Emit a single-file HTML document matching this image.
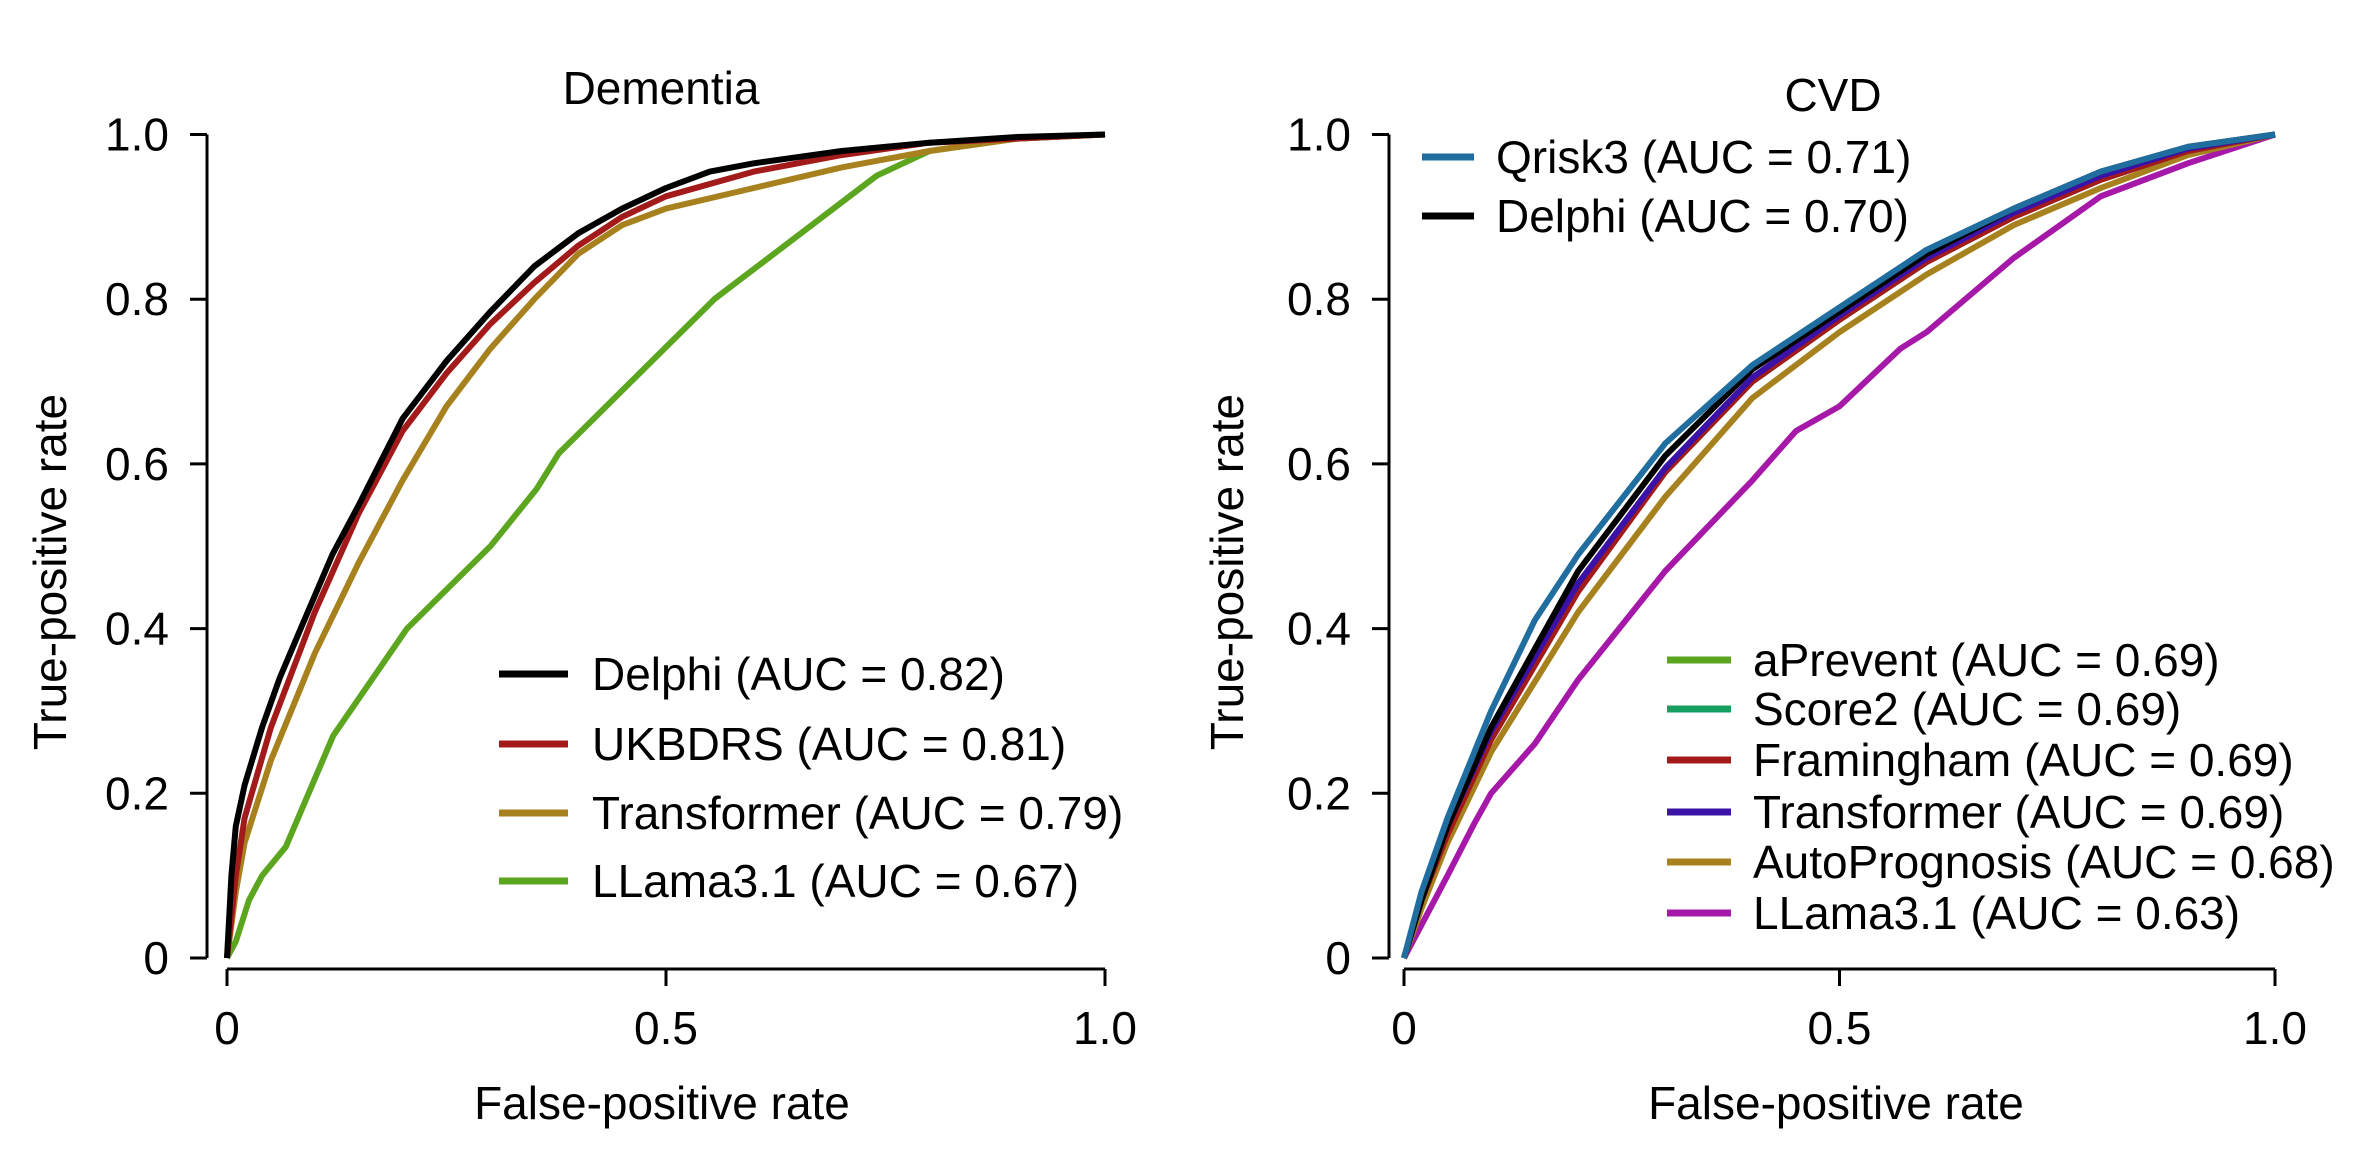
<!DOCTYPE html>
<html><head><meta charset="utf-8"><style>
html,body{margin:0;padding:0;background:#fff;}
svg{display:block;font-family:"Liberation Sans",sans-serif;}
</style></head><body>
<svg id="chart" width="2370" height="1164" viewBox="0 0 2370 1164" xmlns="http://www.w3.org/2000/svg"></svg>
<script>
// ---- Dementia data ----
const demDelphiX = [0,0.005,0.01,0.02,0.04,0.06,0.08,0.1,0.12,0.15,0.2,0.25,0.3,0.35,0.4,0.45,0.5,0.55,0.6,0.7,0.8,0.9,1];
const demDelphiY = [0,0.1,0.16,0.21,0.28,0.34,0.39,0.44,0.49,0.55,0.655,0.725,0.785,0.84,0.88,0.91,0.935,0.955,0.965,0.98,0.99,0.997,1];
const demUkbX = [0,0.01,0.02,0.05,0.1,0.15,0.2,0.25,0.3,0.35,0.4,0.45,0.5,0.6,0.7,0.8,1];
const demUkbY = [0,0.1,0.17,0.28,0.42,0.54,0.64,0.71,0.77,0.82,0.865,0.9,0.925,0.955,0.975,0.99,1];
const demTrX = [0,0.01,0.02,0.05,0.1,0.15,0.2,0.25,0.3,0.35,0.4,0.45,0.5,0.6,0.7,0.8,0.9,1];
const demTrY = [0,0.08,0.14,0.24,0.37,0.48,0.58,0.67,0.74,0.8,0.855,0.89,0.91,0.935,0.96,0.98,0.995,1];
const demLlX = [0,0.01,0.025,0.04,0.067,0.121,0.205,0.3,0.353,0.378,0.555,0.74,0.8,0.9,1];
const demLlY = [0,0.02,0.07,0.1,0.135,0.27,0.4,0.5,0.57,0.613,0.8,0.95,0.98,0.995,1];
// ---- CVD data ----
const cvdQrX = [0,0.02,0.05,0.1,0.15,0.2,0.3,0.4,0.5,0.6,0.7,0.8,0.9,1];
const cvdQrY = [0,0.08,0.17,0.3,0.41,0.49,0.625,0.72,0.79,0.86,0.91,0.955,0.985,1];
const cvdDeX = [0,0.02,0.05,0.1,0.2,0.3,0.4,0.5,0.6,0.7,0.8,0.9,1];
const cvdDeY = [0,0.07,0.16,0.28,0.47,0.61,0.715,0.785,0.855,0.91,0.955,0.985,1];
const cvdMidX = [0,0.02,0.05,0.1,0.2,0.3,0.4,0.5,0.6,0.7,0.8,0.9,1];
const cvdApY = [0,0.07,0.155,0.27,0.45,0.59,0.7,0.775,0.845,0.9,0.945,0.98,1];
const cvdScY = [0,0.07,0.155,0.27,0.45,0.59,0.7,0.777,0.847,0.902,0.947,0.981,1];
const cvdFrY = [0,0.07,0.15,0.265,0.445,0.59,0.7,0.775,0.845,0.9,0.945,0.98,1];
const cvdTrY = [0,0.07,0.16,0.275,0.455,0.595,0.705,0.78,0.85,0.905,0.95,0.983,1];
const cvdAuY = [0,0.06,0.14,0.25,0.42,0.56,0.68,0.76,0.83,0.89,0.935,0.975,1];
const cvdLlX = [0,0.02,0.05,0.08,0.1,0.15,0.2,0.3,0.4,0.45,0.5,0.57,0.6,0.7,0.8,0.9,1];
const cvdLlY = [0,0.04,0.1,0.162,0.2,0.26,0.338,0.47,0.58,0.64,0.67,0.74,0.76,0.85,0.925,0.965,1];
const ticksX = [0,0.5,1];
const tickLabelsX = ["0","0.5","1.0"];
const ticksY = [0,0.2,0.4,0.6,0.8,1];
const tickLabelsY = ["0","0.2","0.4","0.6","0.8","1.0"];

const NS = "http://www.w3.org/2000/svg";
const svg = document.getElementById("chart");
const FS = 46;
function mk(tag, attrs, parent, text){
  const e = document.createElementNS(NS, tag);
  for (const k in attrs) e.setAttribute(k, attrs[k]);
  if (text !== undefined) e.textContent = text;
  (parent||svg).appendChild(e); return e;
}
function panel(cfg){
  const g = mk("g", {});
  
  
  const Y0 = 958, Y1 = 134.5, XL = 969;
  const sx = v => cfg.x0 + v*(cfg.x1-cfg.x0);
  const sy = v => Y0 - v*(Y0-Y1);
  const ax = mk("path", {d:`M${cfg.axX} ${sy(0)} V${sy(1)}`, stroke:"#000","stroke-width":3, fill:"none"}, g);
  
  
  const axx = mk("path", {d:`M${sx(0)} ${XL} H${sx(1)}`, stroke:"#000","stroke-width":3, fill:"none"}, g);
  
  
  ticksY.forEach((t,i)=>{
    mk("line",{x1:cfg.axX-17,x2:cfg.axX,y1:sy(t),y2:sy(t),stroke:"#000","stroke-width":3},g);
    const l = mk("text",{x:cfg.axX-38,y:sy(t)+16,"text-anchor":"end","font-size":FS},g,tickLabelsY[i]);
    
    
  });
  ticksX.forEach((t,i)=>{
    mk("line",{x1:sx(t),x2:sx(t),y1:XL,y2:XL+17,stroke:"#000","stroke-width":3},g);
    const l = mk("text",{x:sx(t),y:1044,"text-anchor":"middle","font-size":FS},g,tickLabelsX[i]);
    
    
  });
  const t = mk("text",{x:cfg.titleX,y:cfg.titleY,"text-anchor":"middle","font-size":FS},g,cfg.title);
  
  
  const xt = mk("text",{x:cfg.xTitleX,y:1119,"text-anchor":"middle","font-size":FS},g,"False-positive rate");
  
  
  const yt = mk("text",{x:0,y:0,"text-anchor":"middle","font-size":FS,transform:`translate(${cfg.yTitleX},572) rotate(-90)`},g,"True-positive rate");
  
  
  cfg.series.forEach(s=>{
    const d = s.x.map((v,i)=>(i?"L":"M")+sx(v).toFixed(1)+" "+sy(s.y[i]).toFixed(1)).join(" ");
    const p = mk("path",{d:d,stroke:s.c,"stroke-width":6,fill:"none","stroke-linejoin":"round"},g);
    
    
  });
  cfg.legend.forEach(L=>{
    const lg = mk("g",{},g);
    
    
    mk("line",{x1:L.lx1,x2:L.lx2,y1:L.y,y2:L.y,stroke:L.c,"stroke-width":7},lg);
    mk("text",{x:L.tx,y:L.y+16,"font-size":FS},lg,L.t);
  });
}
const C = {black:"#000",red:"#a31a1a",gold:"#a8811f",green:"#5ba51f",blue:"#1f6e9f",teal:"#15a062",purple:"#3b12a8",mag:"#a619a8"};
panel({name:"dementia-panel",title:"Dementia",titleX:661,titleY:104,xTitleX:662,x0:227,x1:1105,axX:207,yTitleX:66,
  series:[
    {id:"line-llama",x:demLlX,y:demLlY,c:C.green},
    {id:"line-transformer",x:demTrX,y:demTrY,c:C.gold},
    {id:"line-ukbdrs",x:demUkbX,y:demUkbY,c:C.red},
    {id:"line-delphi",x:demDelphiX,y:demDelphiY,c:C.black}],
  legend:[
    {lx1:499,lx2:568,tx:592,y:674,c:C.black,t:"Delphi (AUC = 0.82)"},
    {lx1:499,lx2:568,tx:592,y:744,c:C.red,t:"UKBDRS (AUC = 0.81)"},
    {lx1:499,lx2:568,tx:592,y:813,c:C.gold,t:"Transformer (AUC = 0.79)"},
    {lx1:499,lx2:568,tx:592,y:881,c:C.green,t:"LLama3.1 (AUC = 0.67)"}]
});
panel({name:"cvd-panel",title:"CVD",titleX:1833,titleY:111,xTitleX:1836,x0:1404,x1:2275,axX:1389,yTitleX:1243,
  series:[
    {id:"line-llama",x:cvdLlX,y:cvdLlY,c:C.mag},
    {id:"line-autoprognosis",x:cvdMidX,y:cvdAuY,c:C.gold},
    {id:"line-aprevent",x:cvdMidX,y:cvdApY,c:C.green},
    {id:"line-score2",x:cvdMidX,y:cvdScY,c:C.teal},
    {id:"line-framingham",x:cvdMidX,y:cvdFrY,c:C.red},
    {id:"line-transformer",x:cvdMidX,y:cvdTrY,c:C.purple},
    {id:"line-delphi",x:cvdDeX,y:cvdDeY,c:C.black},
    {id:"line-qrisk3",x:cvdQrX,y:cvdQrY,c:C.blue}],
  legend:[
    {lx1:1422,lx2:1474,tx:1496,y:157,c:C.blue,t:"Qrisk3 (AUC = 0.71)"},
    {lx1:1422,lx2:1474,tx:1496,y:216,c:C.black,t:"Delphi (AUC = 0.70)"},
    {lx1:1667,lx2:1731,tx:1753,y:660,c:C.green,t:"aPrevent (AUC = 0.69)"},
    {lx1:1667,lx2:1731,tx:1753,y:709,c:C.teal,t:"Score2 (AUC = 0.69)"},
    {lx1:1667,lx2:1731,tx:1753,y:760,c:C.red,t:"Framingham (AUC = 0.69)"},
    {lx1:1667,lx2:1731,tx:1753,y:812,c:C.purple,t:"Transformer (AUC = 0.69)"},
    {lx1:1667,lx2:1731,tx:1753,y:862,c:C.gold,t:"AutoPrognosis (AUC = 0.68)"},
    {lx1:1667,lx2:1731,tx:1753,y:913,c:C.mag,t:"LLama3.1 (AUC = 0.63)"}]
});
</script>
</body></html>
